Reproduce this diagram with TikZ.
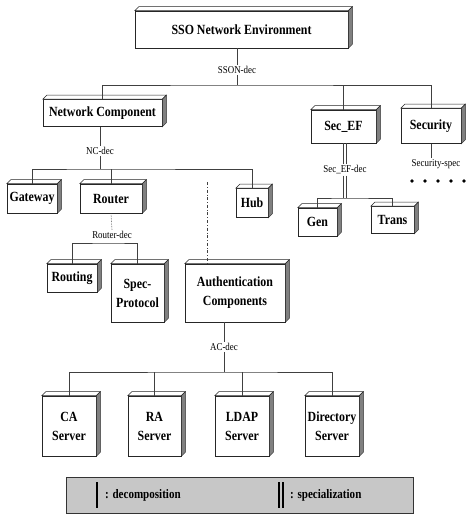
\documentclass[tikz,border=0pt]{standalone}
\usepackage{fontspec}
\setmainfont{Liberation Serif}[FakeStretch=0.85]
\usetikzlibrary{calc}
\begin{document}
\begin{tikzpicture}[x=1pt,y=-1pt,
  box/.style={draw=black!85, line width=0.6pt, fill=white, inner sep=1pt, align=center,
    font=\bfseries\fontsize{14}{19}\selectfont},
  wh/.style 2 args={minimum width=#1pt, minimum height=#2pt},
  lbl/.style={inner sep=1pt, font=\fontsize{10.5}{12}\selectfont},
  legtext/.style={inner sep=1pt, anchor=west, font=\bfseries\fontsize{13}{15}\selectfont},
  conn/.style={draw=black!75, line width=0.6pt},
  sideface/.style={fill=black!50, draw=black!85, line width=0.5pt},
  topface/.style={fill=white, draw=black!85, line width=0.5pt},
  ]
\useasboundingbox (0,0) rectangle (471,520);

% boxes
\node[box, wh={213}{37}] (sso) at (241.5,29.5) {SSO Network Environment};
\node[box, wh={119}{27}] (nc) at (102.5,113) {Network Component};
\node[box, wh={65}{33}] (secef) at (343.5,126.5) {Sec\_EF};
\node[box, wh={60}{35}] (secur) at (431,126) {Security};
\node[box, wh={50}{29}] (gw) at (32,198.5) {Gateway};
\node[box, wh={62}{29}] (router) at (111,198.5) {Router};
\node[box, wh={32}{29}] (hub) at (252,203) {Hub};
\node[box, wh={50}{28}] (routing) at (72,278) {Routing};
\node[box, wh={53}{58}] (spec) at (137.5,293) {Spec-\\Protocol};
\node[box, wh={100}{58}] (auth) at (235,293) {Authentication\\Components};
\node[box, wh={54}{60}] (ca) at (69,426) {CA\\Server};
\node[box, wh={53}{60}] (ra) at (154.5,426) {RA\\Server};
\node[box, wh={54}{60}] (ldap) at (242,426) {LDAP\\Server};
\node[box, wh={54}{60}] (dir) at (332,426) {Directory\\Server};
\node[box, wh={39}{28}] (gen) at (317.5,222) {Gen};
\node[box, wh={43}{27}] (trans) at (392.5,220) {Trans};

% 3D faces
\foreach \n in {sso,nc,secef,secur,gw,router,hub,routing,spec,auth,ca,ra,ldap,dir,gen,trans}{
  \filldraw[topface] (\n.north west) -- ++(4,-4) -- ($(\n.north east)+(4,-4)$) -- (\n.north east) -- cycle;
  \filldraw[sideface] (\n.north east) -- ++(4,-4) -- ($(\n.south east)+(4,-4)$) -- (\n.south east) -- cycle;
}

% SSON decomposition
\node[lbl] (ssondec) at (237,70) {SSON-dec};
\coordinate (b1) at (237,85);
\draw[conn] (sso.south -| ssondec) -- (ssondec.north);
\draw[conn] (ssondec.south) -- (b1);
\draw[conn] (nc.north) |- (b1) -| (secur.north);
\draw[conn] (secef.north) -- (secef.north |- b1);

% NC decomposition
\node[lbl] (ncdec) at (100,151) {NC-dec};
\coordinate (b2) at (100,169);
\draw[conn] (nc.south -| ncdec) -- (ncdec.north);
\draw[conn] (ncdec.south) -- (b2);
\draw[conn] (gw.north) |- (b2) -| (hub.north);
\draw[conn] (router.north) -- (router.north |- b2);
\coordinate (aspec) at (207,182);
\draw[conn, dash dot] (aspec) -- (aspec |- auth.north);

% Router decomposition
\node[lbl] (rdec) at (112,235) {Router-dec};
\coordinate (b3) at (112,243);
\draw[conn, densely dotted] (router.south) -- (rdec.north);
\draw[conn] (routing.north) |- (b3) -| (spec.north);

% AC decomposition
\node[lbl] (acdec) at (224,347) {AC-dec};
\coordinate (b4) at (224,372);
\draw[conn] (auth.south -| acdec) -- (acdec.north);
\draw[conn] (acdec.south) -- (b4);
\draw[conn] (ca.north) |- (b4) -| (dir.north);
\draw[conn] (ra.north) -- (ra.north |- b4);
\draw[conn] (ldap.north) -- (ldap.north |- b4);

% Sec_EF (double = specialization)
\node[lbl] (sdec) at (345,170) {Sec\_EF-dec};
\coordinate (b5) at (345,198);
\foreach \s in {-1.3,1.3}{
  \draw[conn] ([xshift=\s pt]secef.south -| sdec) -- ([xshift=\s pt]sdec.north);
  \draw[conn] ([xshift=\s pt]sdec.south) -- ([xshift=\s pt]b5);
}
\draw[conn] (gen.north) |- (b5) -| (trans.north);

% Security
\node[lbl] (secspec) at (436,164) {Security-spec};
\draw[conn] (secur.south) -- (secur.south |- secspec.north);
\foreach \i in {0,...,4} \fill (412+13*\i,181) circle (1.8);

% legend
\node[draw=black!80, line width=0.6pt, fill=black!22, minimum width=347pt, minimum height=36pt, inner sep=0pt] (legend) at (239.5,495) {};
\draw[line width=1.6pt] (97,482) -- (97,508);
\node[legtext] (ldec) at (104,495) {: decomposition};
\draw[line width=1.1pt] (279,482) -- (279,508);
\draw[line width=1.1pt] (283,482) -- (283,508);
\node[legtext] (lspec) at (289,495) {: specialization};
\end{tikzpicture}
\end{document}
